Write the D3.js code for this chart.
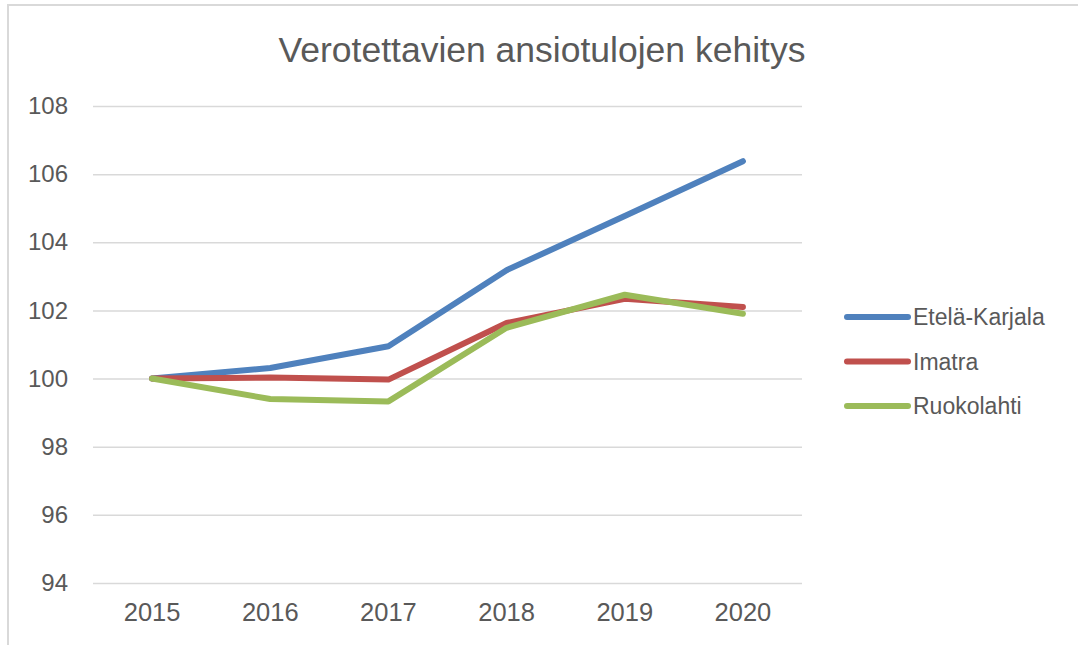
<!DOCTYPE html>
<html>
<head>
<meta charset="utf-8">
<script src="https://cdn.jsdelivr.net/npm/d3@7"></script>
<style>
  body { margin: 0; background: #fff; }
  text { font-family: "Liberation Sans", Arial, sans-serif; fill: #595959; }
</style>
</head>
<body>
<div id="chart"></div>
<script>
'use strict'

const years = ['2015', '2016', '2017', '2018', '2019', '2020']
const etelaKarjala = [100, 100.31, 100.95, 103.18, 104.77, 106.38]
const imatra = [100, 100.03, 99.97, 101.63, 102.34, 102.1]
const ruokolahti = [100, 99.4, 99.33, 101.49, 102.46, 101.9]
const seriesNames = ['Etelä-Karjala', 'Imatra', 'Ruokolahti']
const yTicks = [94, 96, 98, 100, 102, 104, 106, 108]

const colors = ['#4F81BD', '#C0504D', '#9BBB59']
const series = [etelaKarjala, imatra, ruokolahti]

const W = 1078, H = 645
const margin = {left: 93, right: 276, top: 106, bottom: 62}

const svg = d3.select('#chart').append('svg')
  .attr('width', W)
  .attr('height', H)

// outer frame (only top and left edges visible)
svg.append('path')
  .attr('d', 'M8,' + H + ' L8,5 L' + W + ',5')
  .attr('fill', 'none')
  .attr('stroke', '#d9d9d9')
  .attr('stroke-width', 2)

const x = d3.scaleBand()
  .domain(years)
  .range([margin.left, W - margin.right])

const y = d3.scaleLinear()
  .domain([94, 108])
  .range([H - margin.bottom, margin.top])

// title
svg.append('text')
  .attr('x', 542)
  .attr('y', 62)
  .attr('text-anchor', 'middle')
  .style('font-size', '35.5px')
  .text('Verotettavien ansiotulojen kehitys')

// gridlines + y labels
const yAxis = svg.append('g')
  .attr('transform', 'translate(' + margin.left + ',0)')
  .call(d3.axisLeft(y).tickValues(yTicks)
    .tickSize(-(W - margin.left - margin.right))
    .tickPadding(25))
yAxis.select('.domain').remove()
yAxis.selectAll('line').attr('stroke', '#d9d9d9').attr('stroke-width', 1.5)
yAxis.selectAll('text').style('font-size', '24px').attr('fill', '#595959')

// x labels
const xAxis = svg.append('g')
  .attr('transform', 'translate(0,' + (H - margin.bottom) + ')')
  .call(d3.axisBottom(x).tickSize(0).tickPadding(20))
xAxis.select('.domain').remove()
xAxis.selectAll('text').style('font-size', '25.5px').attr('fill', '#595959')

const line = d3.line()
  .x((d, i) => x(years[i]) + x.bandwidth() / 2)
  .y(d => y(d))

series.forEach((s, k) => {
  svg.append('path')
    .datum(s)
    .attr('d', line)
    .attr('fill', 'none')
    .attr('stroke', colors[k])
    .attr('stroke-width', 6)
    .attr('stroke-linecap', 'round')
    .attr('stroke-linejoin', 'round')
})

// legend
const legend = svg.append('g')
  .attr('transform', 'translate(847,317)')
seriesNames.forEach((name, k) => {
  const g = legend.append('g').attr('transform', 'translate(0,' + (k * 44.5) + ')')
  g.append('line')
    .attr('x1', 0).attr('x2', 61)
    .attr('stroke', colors[k])
    .attr('stroke-width', 6)
    .attr('stroke-linecap', 'round')
  g.append('text')
    .attr('x', 66)
    .attr('dy', '0.35em')
    .style('font-size', '23px')
    .text(name)
})
</script>
</body>
</html>
